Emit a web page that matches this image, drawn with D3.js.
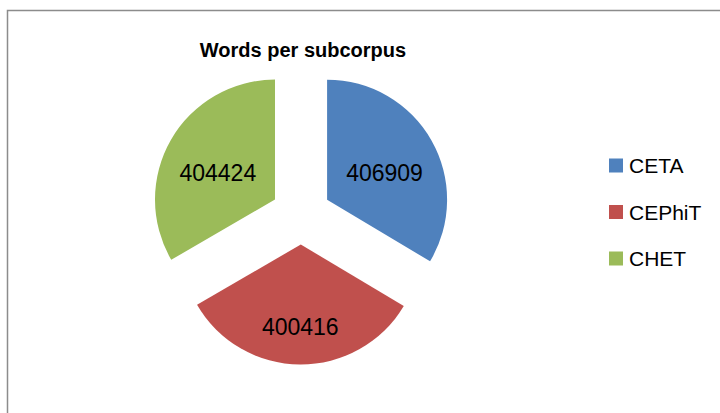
<!DOCTYPE html>
<html>
<head>
<meta charset="utf-8">
<script src="https://cdn.jsdelivr.net/npm/d3@7"></script>
<style>
  html, body { margin: 0; padding: 0; background: #fff; }
  svg { display: block; }
</style>
</head>
<body>
<svg id="chart" width="720" height="413"></svg>
<script>
// ---- data ----
const categories = ["CETA", "CEPhiT", "CHET"];
const values = [406909, 400416, 404424];
const colors = ["#4F81BD", "#C0504D", "#9BBB59"];
const title = "Words per subcorpus";

// ---- layout ----
const W = 720, H = 413;
const cx = 301, cy = 214.5, R = 120, explode = 30;
const labelDist = [66, 82, 66];
const labelDy = [6, 0, 6];
const font = "'Liberation Sans', Arial, sans-serif";

const svg = d3.select("#chart");

// chart border (only top/left visible in the crop)
svg.append("rect")
  .attr("x", 7.5).attr("y", 10.5)
  .attr("width", 760).attr("height", 460)
  .attr("fill", "none")
  .attr("stroke", "#8c8c8c")
  .attr("stroke-width", 1.5);

svg.append("text")
  .attr("x", 303).attr("y", 57)
  .attr("text-anchor", "middle")
  .attr("font-family", font)
  .attr("font-weight", "bold")
  .attr("font-size", 20)
  .attr("fill", "#000")
  .text(title);

const pie = d3.pie().sort(null).value(d => d)(values);
const arc = d3.arc().innerRadius(0).outerRadius(R);

const g = svg.append("g").attr("transform", `translate(${cx},${cy})`);

const slices = g.selectAll("g.slice").data(pie).join("g")
  .attr("class", "slice")
  .attr("transform", d => {
    const mid = (d.startAngle + d.endAngle) / 2;
    return `translate(${Math.sin(mid) * explode},${-Math.cos(mid) * explode})`;
  });

slices.append("path")
  .attr("d", arc)
  .attr("fill", (d, i) => colors[i]);

slices.append("text")
  .attr("x", (d, i) => Math.sin((d.startAngle + d.endAngle) / 2) * labelDist[i])
  .attr("y", (d, i) => -Math.cos((d.startAngle + d.endAngle) / 2) * labelDist[i] + labelDy[i])
  .attr("dy", "0.36em")
  .attr("text-anchor", "middle")
  .attr("font-family", font)
  .attr("font-size", 23)
  .attr("fill", "#000")
  .text(d => d.data);

// legend
const legend = svg.append("g");
const ly = d3.scalePoint().domain(categories).range([165.5, 258.5]);
const items = legend.selectAll("g").data(categories).join("g")
  .attr("transform", d => `translate(609,${ly(d)})`);
items.append("rect")
  .attr("x", 0).attr("y", -7)
  .attr("width", 14).attr("height", 14)
  .attr("fill", (d, i) => colors[i]);
items.append("text")
  .attr("x", 20).attr("y", 0)
  .attr("dy", "0.36em")
  .attr("font-family", font)
  .attr("font-size", 21)
  .attr("fill", "#000")
  .text(d => d);
</script>
</body>
</html>
